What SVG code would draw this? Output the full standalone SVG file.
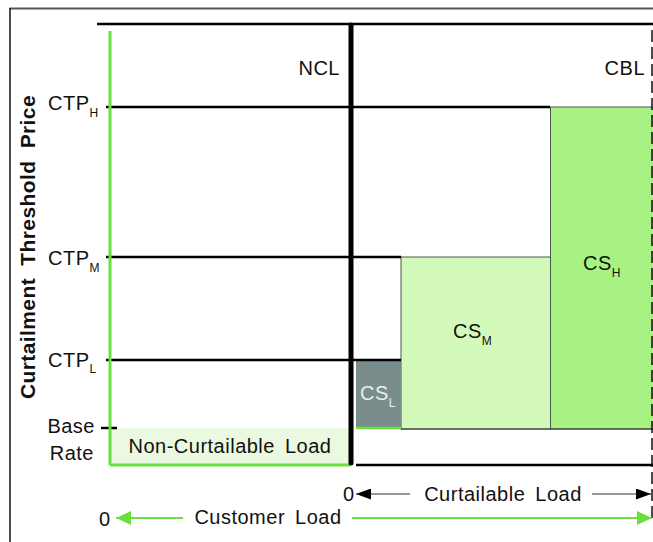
<svg xmlns="http://www.w3.org/2000/svg" width="653" height="542" viewBox="0 0 653 542">
<style>
text{font-family:"Liberation Sans",Arial,sans-serif;font-size:20px;fill:#111;letter-spacing:0.5px;word-spacing:4px}
.sub{font-size:12px;letter-spacing:0}
.blk{stroke:#000;stroke-width:2.5;fill:none}
.grn{stroke:#6be03c;fill:none}
.ax{font-weight:bold;font-size:21px;letter-spacing:0.4px;word-spacing:6px}
</style>
<defs>
<marker id="ab" viewBox="0 0 15 11" refX="15" refY="5.5" markerWidth="15" markerHeight="11" markerUnits="userSpaceOnUse" orient="auto"><path d="M0,0L15,5.5L0,11z" fill="#000"/></marker>
<marker id="ag" viewBox="0 0 15 14" refX="15" refY="7" markerWidth="15" markerHeight="14" markerUnits="userSpaceOnUse" orient="auto"><path d="M0,0L15,7L0,14z" fill="#6be03c"/></marker>
</defs>
<rect width="653" height="542" fill="#fff"/>
<g id="frame">
<line x1="9.5" y1="8.5" x2="653" y2="8.5" stroke="#555" stroke-width="2"/>
<line x1="10" y1="8" x2="10" y2="542" stroke="#111" stroke-width="1.5"/>
</g>
<g id="cs-h"><rect x="550.5" y="107" width="103" height="322" fill="#a8f283" stroke="#4a5a4a" stroke-width="1"/>
<text x="583" y="270">CS<tspan class="sub" dy="7">H</tspan></text></g>
<g id="cs-m"><rect x="401" y="257" width="149.5" height="172" fill="#d3f9bb" stroke="#4a5a4a" stroke-width="1"/>
<text x="453" y="338">CS<tspan class="sub" dy="7">M</tspan></text></g>
<g id="cs-l"><rect x="356" y="360" width="45" height="68" fill="#798d8d"/>
<line x1="356" y1="428" x2="401" y2="428" class="grn" stroke-width="2.5"/>
<text x="360" y="400" style="fill:#e8eeee">CS<tspan class="sub" dy="7" style="fill:#e8eeee">L</tspan></text></g>
<g id="ncl-box"><rect x="110" y="428" width="240" height="37" fill="#eaf9df"/>
<text x="230" y="453" text-anchor="middle">Non-Curtailable Load</text></g>
<g id="connectors">
<line x1="97" y1="24" x2="653" y2="24" class="blk" stroke-width="3"/>
<line x1="106" y1="107" x2="550" y2="107" class="blk"/>
<line x1="106" y1="257" x2="401" y2="257" class="blk"/>
<line x1="106" y1="360" x2="401" y2="360" class="blk"/>
<line x1="101" y1="428" x2="117" y2="428" class="blk" stroke-width="3"/>
<line x1="110" y1="31" x2="110" y2="465" class="grn" stroke-width="3"/>
<line x1="110" y1="465" x2="351" y2="465" class="grn" stroke-width="3"/>
<line x1="401" y1="429" x2="653" y2="429" stroke="#333" stroke-width="1.2"/>
<line x1="356" y1="465" x2="653" y2="465" class="blk" stroke-width="3"/>
<line x1="351" y1="25" x2="351" y2="463" stroke="#000" stroke-width="5" stroke-linecap="round"/>
<line x1="652" y1="30" x2="652" y2="522" stroke="#111" stroke-width="1.5" stroke-dasharray="12,5"/>
<line x1="410" y1="494" x2="356" y2="494" stroke="#333" stroke-width="1.2" marker-end="url(#ab)"/>
<line x1="592" y1="494" x2="651" y2="494" stroke="#333" stroke-width="1.2" marker-end="url(#ab)"/>
<line x1="183" y1="518" x2="116" y2="518" class="grn" stroke-width="2" marker-end="url(#ag)"/>
<line x1="352" y1="518" x2="652" y2="518" class="grn" stroke-width="2" marker-end="url(#ag)"/>
</g>
<g id="labels">
<text x="340" y="75" text-anchor="end">NCL</text>
<text x="645" y="75" text-anchor="end">CBL</text>
<text x="48" y="110">CTP<tspan class="sub" dy="7">H</tspan></text>
<text x="48" y="265">CTP<tspan class="sub" dy="7">M</tspan></text>
<text x="48" y="367">CTP<tspan class="sub" dy="6">L</tspan></text>
<text x="95" y="433" text-anchor="end">Base</text>
<text x="94" y="460" text-anchor="end">Rate</text>
<text transform="translate(35,247) rotate(-90)" text-anchor="middle" class="ax">Curtailment Threshold Price</text>
<text x="343" y="501">0</text>
<text x="503" y="501" text-anchor="middle">Curtailable Load</text>
<text x="99" y="526">0</text>
<text x="268" y="524" text-anchor="middle">Customer Load</text>
</g>
</svg>
